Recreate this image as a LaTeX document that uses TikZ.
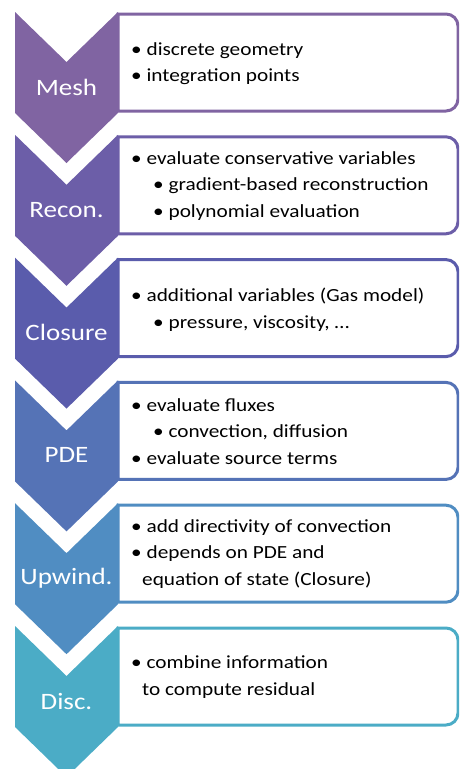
\documentclass[tikz,border=0pt]{standalone}
\usepackage{fontspec}
\setmainfont{Carlito}[FakeStretch=1.15]
\usepackage{tikz}

\definecolor{meshc}{HTML}{8064A2}
\definecolor{reconc}{HTML}{6C5EA8}
\definecolor{closurec}{HTML}{5A5CAC}
\definecolor{pdec}{HTML}{5573B6}
\definecolor{upwindc}{HTML}{508DC2}
\definecolor{discc}{HTML}{4BACC6}

\begin{document}
\begin{tikzpicture}[x=1pt, y=-1pt,
		box/.style={draw=#1, line width=3pt, fill=white},
		chev/.style={fill=#1},
		lab/.style={text=white, font=\fontsize{23.5}{27}\selectfont, inner sep=0pt},
		txt/.style={anchor=west, align=left, inner sep=0pt, font=\fontsize{18.5}{26.5}\selectfont}]
		\useasboundingbox (0,0) rectangle (459,769);
		\clip (0,0) rectangle (459,769);
		% Mesh
		\draw[box=meshc] (118,111) -- (118,14) -- (446,14) arc(-90:0:12) -- (458,99) arc(0:90:12) -- cycle;
		\fill[chev=meshc] (15,12) -- ++(51.5,50) -- ++(51.5,-50) -- ++(0,101) -- ++(-51.5,50) -- ++(-51.5,-50) -- cycle;
		\node[lab] (mesh) at (66.5,87) {Mesh};
		\node[txt] (meshtxt) at (131,63.5) {• discrete geometry\\• integration points};
		% Recon.
		\draw[box=reconc] (118,233.8) -- (118,136.8) -- (446,136.8) arc(-90:0:12) -- (458,221.8) arc(0:90:12) -- cycle;
		\fill[chev=reconc] (15,134.8) -- ++(51.5,50) -- ++(51.5,-50) -- ++(0,101) -- ++(-51.5,50) -- ++(-51.5,-50) -- cycle;
		\node[lab] (recon) at (66.5,209.8) {Recon.};
		\node[txt] (recontxt) at (131,185.8) {• evaluate conservative variables\\\hspace*{22pt}• gradient-based reconstruction\\\hspace*{22pt}• polynomial evaluation};
		% Closure
		\draw[box=closurec] (118,356.6) -- (118,259.6) -- (446,259.6) arc(-90:0:12) -- (458,344.6) arc(0:90:12) -- cycle;
		\fill[chev=closurec] (15,257.6) -- ++(51.5,50) -- ++(51.5,-50) -- ++(0,101) -- ++(-51.5,50) -- ++(-51.5,-50) -- cycle;
		\node[lab] (closure) at (66.5,332.6) {Closure};
		\node[txt] (closuretxt) at (131,309.6) {• additional variables (Gas model)\\\hspace*{22pt}• pressure, viscosity, \ldots};
		% PDE
		\draw[box=pdec] (118,479.4) -- (118,382.4) -- (446,382.4) arc(-90:0:12) -- (458,467.4) arc(0:90:12) -- cycle;
		\fill[chev=pdec] (15,380.4) -- ++(51.5,50) -- ++(51.5,-50) -- ++(0,101) -- ++(-51.5,50) -- ++(-51.5,-50) -- cycle;
		\node[lab] (pde) at (66.5,455.4) {PDE};
		\node[txt] (pdetxt) at (131,431.4) {• evaluate fluxes\\\hspace*{22pt}• convection, diffusion\\• evaluate source terms};
		% Upwind.
		\draw[box=upwindc] (118,602.2) -- (118,505.2) -- (446,505.2) arc(-90:0:12) -- (458,590.2) arc(0:90:12) -- cycle;
		\fill[chev=upwindc] (15,503.2) -- ++(51.5,50) -- ++(51.5,-50) -- ++(0,101) -- ++(-51.5,50) -- ++(-51.5,-50) -- cycle;
		\node[lab] (upwind) at (66.5,578.2) {Upwind.};
		\node[txt] (upwindtxt) at (131,553.7) {• add directivity of convection\\• depends on PDE and\\\hspace*{11pt}equation of state (Closure)};
		% Disc.
		\draw[box=discc] (118,725) -- (118,628) -- (446,628) arc(-90:0:12) -- (458,713) arc(0:90:12) -- cycle;
		\fill[chev=discc] (15,626) -- ++(51.5,50) -- ++(51.5,-50) -- ++(0,101) -- ++(-51.5,50) -- ++(-51.5,-50) -- cycle;
		\node[lab] (disc) at (66.5,701) {Disc.};
		\node[txt] (disctxt) at (131,677) {• combine information\\\hspace*{11pt}to compute residual};
	\end{tikzpicture}
\end{document}
